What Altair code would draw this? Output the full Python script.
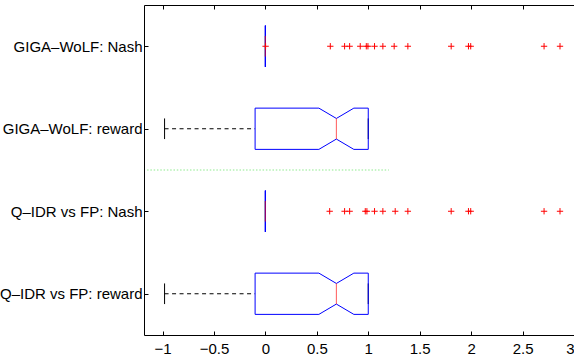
import json
import altair as alt
import pandas as pd

# ---- data ----
categories = ["Q–IDR vs FP: reward", "Q–IDR vs FP: Nash", "GIGA–WoLF: reward", "GIGA–WoLF: Nash"]
positions = [1, 2, 3, 4]

q1 = [-0.10, 0.0, -0.10, 0.0]
median = [0.69, 0.0, 0.69, 0.0]
q3 = [1.00, 0.0, 1.00, 0.0]
notch_lo = [0.52, 0.0, 0.52, 0.0]
notch_hi = [0.86, 0.0, 0.86, 0.0]
whisk_lo = [-0.98, 0.0, -0.98, 0.0]
whisk_hi = [1.00, 0.0, 1.00, 0.0]

qidr_nash_outliers = [0.625, 0.770, 0.819, 0.971, 0.987, 1.061, 1.142, 1.262,
                      1.385, 1.806, 1.974, 1.996, 2.709, 2.864]
giga_nash_outliers = [0.002, 0.631, 0.770, 0.819, 0.922, 0.981, 0.997, 1.061,
                      1.142, 1.252, 1.385, 1.806, 1.974, 1.996, 2.709, 2.864]

separator_x = [-1.15, 1.2]
separator_y = 2.5

x_ticks = [-1, -0.5, 0, 0.5, 1, 1.5, 2, 2.5, 3]
x_domain = [-1.18, 3.0]
y_domain = [0.5, 4.5]

BOX_HALF = 0.25
NOTCH_HALF = 0.125

# ---- tables built from the arrays ----
poly_rows = []
for i, p in enumerate(positions):
    pts = [(q1[i], p - BOX_HALF), (notch_lo[i], p - BOX_HALF), (median[i], p - NOTCH_HALF),
           (notch_hi[i], p - BOX_HALF), (q3[i], p - BOX_HALF), (q3[i], p + BOX_HALF),
           (notch_hi[i], p + BOX_HALF), (median[i], p + NOTCH_HALF), (notch_lo[i], p + BOX_HALF),
           (q1[i], p + BOX_HALF), (q1[i], p - BOX_HALF)]
    for k, (xx, yy) in enumerate(pts):
        poly_rows.append({"row": i, "idx": k, "x": xx, "y": yy})
poly_df = pd.DataFrame(poly_rows)

stats_df = pd.DataFrame({
    "pos": positions, "q1": q1, "median": median, "q3": q3,
    "wlo": whisk_lo, "whi": whisk_hi,
})
stats_df["nlo_y"] = stats_df["pos"] - NOTCH_HALF
stats_df["nhi_y"] = stats_df["pos"] + NOTCH_HALF

caps_df = pd.DataFrame({
    "x": whisk_lo + whisk_hi,
    "y": [p - NOTCH_HALF for p in positions] * 2,
    "y2": [p + NOTCH_HALF for p in positions] * 2,
})

out_df = pd.DataFrame({
    "x": qidr_nash_outliers + giga_nash_outliers,
    "pos": [2] * len(qidr_nash_outliers) + [4] * len(giga_nash_outliers),
})

sep_df = pd.DataFrame({"x": [separator_x[0]], "x2": [separator_x[1]], "y": [separator_y]})

label_lookup = json.dumps([""] + categories, ensure_ascii=False)

FONT = "Liberation Sans"
xs = alt.Scale(domain=x_domain, nice=False, zero=False)
ys = alt.Scale(domain=y_domain, nice=False, zero=False)

x_axis = alt.Axis(values=x_ticks, format="~g", tickSize=4, offset=-4, labelPadding=6,
                  domain=False, grid=False, title=None)
y_axis = alt.Axis(values=positions, labelExpr=f"{label_lookup}[datum.value]", tickSize=4,
                  offset=-4, labelPadding=2, domain=False, grid=False, title=None,
                  labelAlign="right", labelBaseline="middle")

sep = alt.Chart(sep_df).mark_rule(color="#00d000", opacity=0.45, strokeWidth=1,
                                  strokeDash=[1.5, 1.8]).encode(
    x=alt.X("x:Q", scale=xs, axis=x_axis), x2="x2:Q",
    y=alt.Y("y:Q", scale=ys, axis=y_axis),
)

whisk = alt.Chart(stats_df).mark_rule(color="black", strokeWidth=1, strokeDash=[4, 3.5]).encode(
    x=alt.X("wlo:Q", scale=xs), x2="q1:Q", y=alt.Y("pos:Q", scale=ys),
)

caps = alt.Chart(caps_df).mark_rule(color="black", strokeWidth=1).encode(
    x=alt.X("x:Q", scale=xs), y=alt.Y("y:Q", scale=ys), y2="y2:Q",
)

box = alt.Chart(poly_df).mark_line(color="#0000ff", strokeWidth=1).encode(
    x=alt.X("x:Q", scale=xs), y=alt.Y("y:Q", scale=ys),
    detail="row:N", order=alt.Order("idx:Q"),
)

med = alt.Chart(stats_df).mark_rule(color="#ff0000", opacity=0.65, strokeWidth=1).encode(
    x=alt.X("median:Q", scale=xs), y=alt.Y("nlo_y:Q", scale=ys), y2="nhi_y:Q",
)

outl = alt.Chart(out_df).mark_point(shape="M-1,0H1M0,-1V1", filled=False, color="#ff0000",
                                    strokeWidth=1, size=40, opacity=1).encode(
    x=alt.X("x:Q", scale=xs), y=alt.Y("pos:Q", scale=ys),
)

main = alt.layer(sep, whisk, caps, box, med, outl)

top_axis = alt.Chart(pd.DataFrame({"x": x_ticks})).mark_point(opacity=0).encode(
    x=alt.X("x:Q", scale=alt.Scale(domain=x_domain, nice=False, zero=False),
            axis=alt.Axis(orient="top", values=x_ticks, labels=False, tickSize=4, offset=-4,
                          domain=False, grid=False, title=None)),
)

chart = alt.layer(main, top_axis).resolve_scale(x="independent").properties(
    width=430, height=330,
    autosize=alt.AutoSizeParams(type="none"),
    padding={"left": 144, "top": 5, "right": 0, "bottom": 23},
    background="white",
).configure_axis(
    labelFont=FONT, labelFontSize=15, labelColor="black", tickColor="black", tickWidth=1,
).configure_view(stroke="black", strokeWidth=1)

chart.save("out.html", embed_options={"renderer": "svg", "actions": False})
